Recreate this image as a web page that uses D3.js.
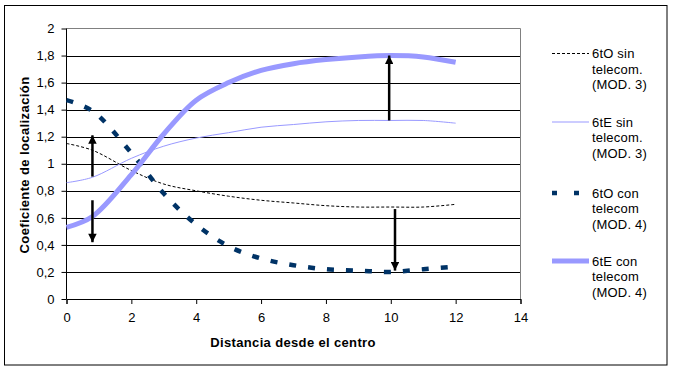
<!DOCTYPE html>
<html><head><meta charset="utf-8">
<script src="https://cdn.jsdelivr.net/npm/d3@7"></script>
<style>body{margin:0;background:#fff}svg{display:block}text{font-family:"Liberation Sans",Arial,sans-serif}</style>
</head><body><svg id="c" width="675" height="369"></svg>
<script>
const xs = [0, 0.8, 2, 3, 4, 5, 6, 7, 8, 9, 10, 11, 12];
const oSin = [1.15, 1.10, 0.95, 0.85, 0.80, 0.76, 0.73, 0.71, 0.69, 0.68, 0.68, 0.68, 0.70];
const eSin = [0.86, 0.90, 1.04, 1.13, 1.19, 1.23, 1.27, 1.29, 1.31, 1.32, 1.32, 1.32, 1.30];
const oCon = [1.47, 1.39, 1.08, 0.78, 0.55, 0.39, 0.30, 0.25, 0.22, 0.21, 0.20, 0.22, 0.24];
const eCon = [0.53, 0.61, 0.92, 1.22, 1.47, 1.60, 1.69, 1.74, 1.77, 1.79, 1.80, 1.79, 1.75];
const seriesNames = [["6tO sin","telecom.","(MOD. 3)"],["6tE sin","telecom.","(MOD. 3)"],["6tO con","telecom","(MOD. 4)"],["6tE con","telecom","(MOD. 4)"]];
const yTicks = [0,0.2,0.4,0.6,0.8,1,1.2,1.4,1.6,1.8,2];
const xTicks = [0,2,4,6,8,10,12,14];
// arrows: [x, yFrom, yTo]
const arrows = [[0.8, 0.905, 1.21],[0.8, 0.73, 0.42],[9.95, 1.32, 1.80],[10.13, 0.665, 0.21]];

const svg = d3.select("#c");
svg.append("rect").attr("x",4.5).attr("y",5.5).attr("width",662.5).attr("height",359.5).attr("fill","#fff").attr("stroke","#000");
const L=66.5, R=520.5, T=28.5, B=299;
const x = d3.scaleLinear().domain([0,14]).range([L,R]);
const y = d3.scaleLinear().domain([0,2]).range([B,T]);

// gridlines
svg.append("g").selectAll("line").data(yTicks.filter(v=>v>0&&v<2)).join("line")
  .attr("x1",L).attr("x2",R).attr("y1",d=>Math.round(y(d))+0.5).attr("y2",d=>Math.round(y(d))+0.5)
  .attr("stroke","#000").attr("stroke-width",1);
svg.append("line").attr("x1",L).attr("x2",R).attr("y1",T).attr("y2",T).attr("stroke","#808080");
svg.append("line").attr("x1",R).attr("x2",R).attr("y1",T).attr("y2",B).attr("stroke","#808080");

const fmt = d => String(d).replace(".", ",");
const ya = svg.append("g").attr("transform",`translate(${L},0)`)
  .call(d3.axisLeft(y).tickValues(yTicks).tickFormat(fmt).tickSize(5).tickPadding(7));
const xa = svg.append("g").attr("transform",`translate(0,${B})`)
  .call(d3.axisBottom(x).tickValues(xTicks).tickFormat(d=>d).tickSize(5).tickPadding(9));
[ya,xa].forEach(a=>{a.selectAll("path,line").attr("stroke","#000");a.selectAll("text").attr("font-size",13).attr("fill","#000").attr("font-family","Liberation Sans, Arial, sans-serif");});
ya.select(".domain").attr("d",`M0,${T}V${B}`);

const line = d3.line().x(d=>x(d[0])).y(d=>y(d[1])).curve(d3.curveCatmullRom.alpha(0.5));
const mk = vals => xs.map((v,i)=>[v,vals[i]]);
const styles = [
  {data:oSin, stroke:"#000", w:1, dash:"3,2"},
  {data:eSin, stroke:"#9999ff", w:1, dash:null},
  {data:oCon, stroke:"#003366", w:4.5, dash:"7,12"},
  {data:eCon, stroke:"#9999ff", w:5, dash:null}
];
styles.forEach(s=>{
  svg.append("path").attr("d",line(mk(s.data))).attr("fill","none").attr("stroke",s.stroke)
    .attr("stroke-width",s.w).attr("stroke-dasharray",s.dash);
});

// arrows
svg.append("defs").append("marker").attr("id","ah").attr("viewBox","0 0 10 10").attr("refX",10).attr("refY",5)
  .attr("markerWidth",4).attr("markerHeight",3.4).attr("markerUnits","strokeWidth").attr("orient","auto")
  .append("path").attr("d","M0,0L10,5L0,10Z").attr("fill","#000");
svg.append("g").selectAll("line").data(arrows).join("line")
  .attr("x1",d=>x(d[0])).attr("x2",d=>x(d[0])).attr("y1",d=>y(d[1])).attr("y2",d=>y(d[2]))
  .attr("stroke","#000").attr("stroke-width",2.5).attr("marker-end","url(#ah)");

// titles
svg.append("text").attr("x",293).attr("y",347).attr("text-anchor","middle").attr("font-size",13)
  .attr("letter-spacing",0.35).attr("font-weight","bold").text("Distancia desde el centro");
svg.append("text").attr("transform","translate(29,165) rotate(-90)").attr("text-anchor","middle").attr("font-size",13)
  .attr("letter-spacing",0.4).attr("font-weight","bold").text("Coeficiente de localización");

// legend
const legY = [53.5, 122, 193, 261];
const lg = svg.append("g");
styles.forEach((s,i)=>{
  const yy = legY[i];
  lg.append("line").attr("x1",552).attr("x2",589).attr("y1",yy).attr("y2",yy).attr("stroke",s.stroke)
    .attr("stroke-width",s.w).attr("stroke-dasharray",i===0?"3,2":(i===2?"5,17":null));
  seriesNames[i].forEach((t,j)=>{
    lg.append("text").attr("x",592).attr("y",yy+4.5+j*15.5).attr("font-size",13).attr("letter-spacing",0.2).attr("fill","#000").text(t);
  });
});
</script></body></html>
